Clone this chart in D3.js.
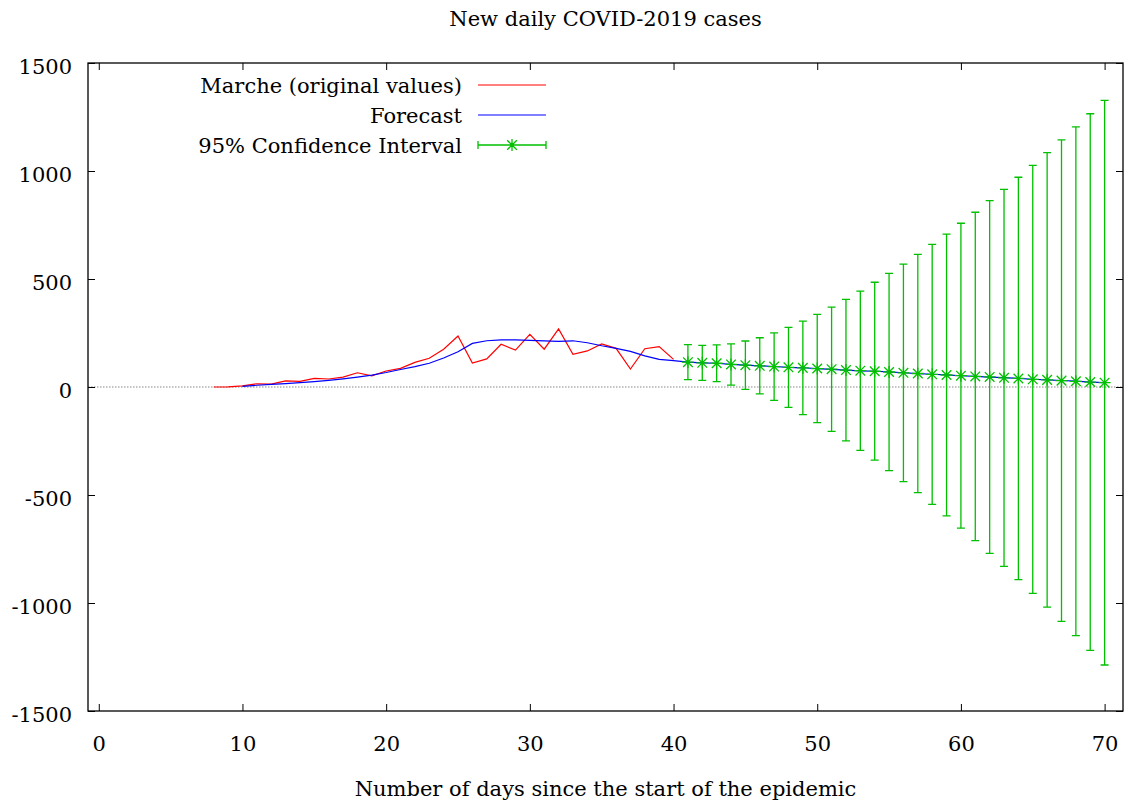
<!DOCTYPE html>
<html>
<head>
<meta charset="utf-8">
<script src="https://cdn.jsdelivr.net/npm/d3@7"></script>
<style>
  html, body { margin: 0; padding: 0; background: #fff; }
  svg { display: block; }
  text { font-family: "DejaVu Serif", "Liberation Serif", serif; font-size: 21px; fill: #000; }
</style>
</head>
<body>
<svg id="chart" width="1130" height="803"></svg>
<script>
// ---------- data ----------
const titleText = "New daily COVID-2019 cases";
const xLabelText = "Number of days since the start of the epidemic";

const xTicks = [0, 10, 20, 30, 40, 50, 60, 70];
const yTicks = [-1500, -1000, -500, 0, 500, 1000, 1500];

// Marche (original values): days 8..40
const origDays = [8, 9, 10, 11, 12, 13, 14, 15, 16, 17, 18, 19, 20, 21, 22, 23, 24, 25, 26, 27, 28, 29, 30, 31, 32, 33, 34, 35, 36, 37, 38, 39, 40];
const origValues = [0, 1, 5, 15, 13, 28, 26, 40, 37, 46, 66, 52, 74, 86, 114, 133, 175, 236, 111, 130, 198, 171, 244, 175, 269, 151, 167, 199, 179, 83, 177, 187, 128];

// Forecast: days 10..70
const fcDays = [10, 11, 12, 13, 14, 15, 16, 17, 18, 19, 20, 21, 22, 23, 24, 25, 26, 27, 28, 29, 30, 31, 32, 33, 34, 35, 36, 37, 38, 39, 40,
                41, 42, 43, 44, 45, 46, 47, 48, 49, 50, 51, 52, 53, 54, 55, 56, 57, 58, 59, 60, 61, 62, 63, 64, 65, 66, 67, 68, 69, 70];
const fcValues = [3, 8, 12, 16, 20, 25, 31, 38, 46, 55, 67, 81, 94, 110, 134, 163, 202, 214, 218, 218, 216, 214, 211, 214, 205, 191, 179, 165, 144, 128, 122,
                  115, 112, 110, 105, 101, 98, 95, 91, 89, 85, 82, 78, 75, 73, 70, 66, 62, 59, 56, 52, 49, 46, 43, 40, 36, 33, 30, 27, 23, 20];

// 95% confidence interval: days 41..70
const ciDays = [41, 42, 43, 44, 45, 46, 47, 48, 49, 50, 51, 52, 53, 54, 55, 56, 57, 58, 59, 60, 61, 62, 63, 64, 65, 66, 67, 68, 69, 70];
const ciLower = [34, 31, 25, 9, -11, -32, -62, -94, -128, -165, -205, -249, -293, -339, -387, -438, -489, -543, -597, -653, -711, -770, -830, -892, -955, -1019, -1085, -1151, -1219, -1287];
const ciUpper = [196, 193, 195, 200, 213, 228, 251, 276, 305, 336, 370, 406, 444, 485, 526, 569, 614, 660, 708, 758, 809, 863, 915, 971, 1026, 1085, 1144, 1204, 1265, 1327];

const legendLabels = ["Marche (original values)", "Forecast", "95% Confidence Interval"];
const colors = { orig: "#ff0000", fc: "#0000ff", ci: "#00c000" };

// ---------- layout ----------
const svg = d3.select("#chart");
const L = 88, R = 1123, T = 63, B = 711;

const x = d3.scaleLinear().domain([-0.75, 71.28]).range([L, R]);
const y = d3.scaleLinear().domain([-1500, 1500]).range([B, T]);

// zero axis (dotted)
svg.append("line")
  .attr("x1", L).attr("x2", R)
  .attr("y1", y(0)).attr("y2", y(0))
  .attr("stroke", "#888").attr("stroke-width", 1.2)
  .attr("stroke-dasharray", "1.5,1.5");

// axes with inward ticks
const tickLen = 7;
const plain = d => String(d);
const bottomAxis = d3.axisBottom(x).tickValues(xTicks).tickSize(-tickLen).tickPadding(25).tickFormat(plain);
const topAxis = d3.axisTop(x).tickValues(xTicks).tickSize(-tickLen).tickFormat("");
const leftAxis = d3.axisLeft(y).tickValues(yTicks).tickSize(-tickLen).tickPadding(16).tickFormat(plain);
const rightAxis = d3.axisRight(y).tickValues(yTicks).tickSize(-tickLen).tickFormat("");

function styleAxis(g) {
  g.select(".domain").remove();
  g.selectAll(".tick line").attr("stroke", "#000").attr("stroke-width", 1);
  g.selectAll(".tick text").attr("font-family", null).attr("font-size", null).style("fill", "#000");
}

svg.append("g").attr("transform", `translate(0,${B})`).call(bottomAxis).call(styleAxis)
  .selectAll(".tick text").attr("dy", "0.71em");
svg.append("g").attr("transform", `translate(0,${T})`).call(topAxis).call(styleAxis);
svg.append("g").attr("transform", `translate(${L},0)`).call(leftAxis).call(styleAxis)
  .selectAll(".tick text").attr("dy", "0.48em");
svg.append("g").attr("transform", `translate(${R},0)`).call(rightAxis).call(styleAxis);

// frame
svg.append("rect")
  .attr("x", L).attr("y", T).attr("width", R - L).attr("height", B - T)
  .attr("fill", "none").attr("stroke", "#000").attr("stroke-width", 1.3);

// title and x label
svg.append("text").attr("x", (L + R) / 2).attr("y", 26).attr("text-anchor", "middle").text(titleText);
svg.append("text").attr("x", (L + R) / 2).attr("y", 796).attr("text-anchor", "middle").text(xLabelText);

// lines
const line = d3.line().x(d => x(d[0])).y(d => y(d[1]));
svg.append("path")
  .datum(origDays.map((d, i) => [d, origValues[i]]))
  .attr("d", line).attr("fill", "none").attr("stroke", colors.orig).attr("stroke-width", 1.2);
svg.append("path")
  .datum(fcDays.map((d, i) => [d, fcValues[i]]))
  .attr("d", line).attr("fill", "none").attr("stroke", colors.fc).attr("stroke-width", 1.2);

// error bars
function starPath(cx, cy, s) {
  const d = s * 0.8;
  return `M${cx - s},${cy}L${cx + s},${cy}M${cx},${cy - s}L${cx},${cy + s}` +
         `M${cx - d},${cy - d}L${cx + d},${cy + d}M${cx - d},${cy + d}L${cx + d},${cy - d}`;
}
const ciData = ciDays.map((d, i) => ({ day: d, lo: ciLower[i], hi: ciUpper[i], mid: (ciLower[i] + ciUpper[i]) / 2 }));
const cap = 4;
const eb = svg.append("g").attr("stroke", colors.ci).attr("stroke-width", 1.3).attr("fill", "none");
eb.selectAll("path.bar").data(ciData).join("path").attr("class", "bar")
  .attr("d", d => {
    const cx = x(d.day), y1 = y(d.hi), y2 = y(d.lo);
    return `M${cx},${y1}L${cx},${y2}M${cx - cap},${y1}L${cx + cap},${y1}M${cx - cap},${y2}L${cx + cap},${y2}`;
  });
eb.selectAll("path.star").data(ciData).join("path").attr("class", "star")
  .attr("d", d => starPath(x(d.day), y(d.mid), 6));

// legend
const legX = 462, sampleX1 = 478, sampleX2 = 546;
const rowY = [85, 115, 145];
const lg = svg.append("g");
legendLabels.forEach((lab, i) => {
  lg.append("text").attr("x", legX).attr("y", rowY[i] + 8).attr("text-anchor", "end").text(lab);
});
lg.append("line").attr("x1", sampleX1).attr("x2", sampleX2).attr("y1", rowY[0]).attr("y2", rowY[0])
  .attr("stroke", colors.orig).attr("stroke-width", 1.2);
lg.append("line").attr("x1", sampleX1).attr("x2", sampleX2).attr("y1", rowY[1]).attr("y2", rowY[1])
  .attr("stroke", colors.fc).attr("stroke-width", 1.2);
const cy = rowY[2], mx = (sampleX1 + sampleX2) / 2;
lg.append("path")
  .attr("d", `M${sampleX1},${cy}L${sampleX2},${cy}M${sampleX1},${cy - cap}L${sampleX1},${cy + cap}M${sampleX2},${cy - cap}L${sampleX2},${cy + cap}` + starPath(mx, cy, 6))
  .attr("stroke", colors.ci).attr("stroke-width", 1.3).attr("fill", "none");
</script>
</body>
</html>
